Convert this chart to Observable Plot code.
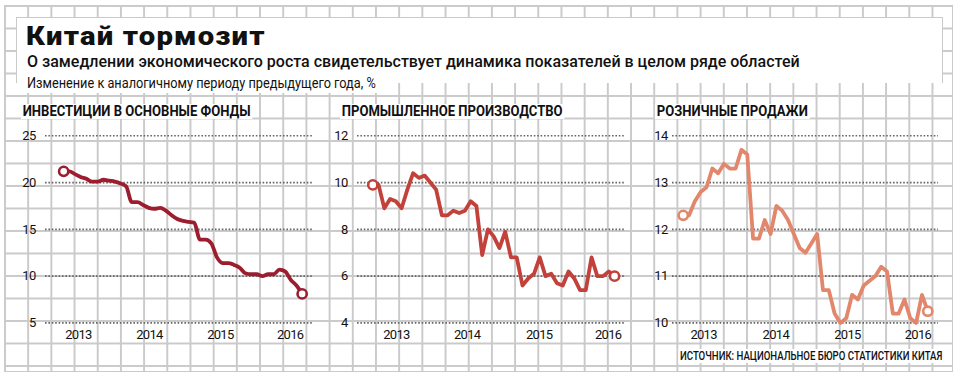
<!DOCTYPE html>
<html>
<head>
<meta charset="utf-8">
<script src="https://cdn.jsdelivr.net/npm/d3@7"></script>
<script src="https://cdn.jsdelivr.net/npm/@observablehq/plot@0.6"></script>
<style>
  html, body { margin: 0; padding: 0; background: #fff; }
  body { width: 960px; height: 374px; position: relative; overflow: hidden; }
  #frame {
    position: absolute; left: 4px; top: 5px; width: 948px; height: 366px;
    background-image:
      linear-gradient(to right, #cacaca 1.5px, transparent 1.5px),
      linear-gradient(to bottom, #cacaca 1.5px, transparent 1.5px);
    background-size: 23.2px 22.5px;
    border-right: 1.5px solid #cacaca; border-bottom: 1.5px solid #cacaca;
  }
  #headbox {
    position: absolute; left: 16px; top: 17px; width: 925px; height: 65px;
    background: #fff; border: 1.5px solid #cacaca; border-bottom: none;
  }
  .txt { position: absolute; white-space: nowrap; color: #111; line-height: 1; }
  #title { left: 26px; top: 22px; font: 900 25px "Roboto", "Liberation Sans", sans-serif; letter-spacing: 1px;
           transform: scaleX(1.17); transform-origin: 0 0; }
  #sub { left: 27px; top: 52px; font: 500 16px "Roboto", "Liberation Sans", sans-serif; }
  #sub2 { left: 26px; top: 74px; font: 400 14px "Roboto", sans-serif; background: #fff; padding: 1px 2px 2px 1px;
          transform: scaleX(0.91); transform-origin: 0 0; }
  .ptitle { position: absolute; top: 104px; font: 700 15px "Roboto", sans-serif; background: #fff; padding: 0 2px;
            white-space: nowrap; color: #111; line-height: 1; transform: scaleX(0.87); transform-origin: 0 0; }
  #src { right: 16px; top: 349px; font: 500 12px "Roboto", sans-serif; background: #fff; padding: 0 2px;
         transform: scaleX(0.8); transform-origin: 100% 0; }
  .panel { position: absolute; top: 120px; }
  .panel svg text { letter-spacing: -0.7px; }
</style>
</head>
<body>
<div id="frame"></div>
<div id="headbox"></div>
<div class="txt" id="title">Китай тормозит</div>
<div class="txt" id="sub">О замедлении экономического роста свидетельствует динамика показателей в целом ряде областей</div>
<div class="txt" id="sub2">Изменение к аналогичному периоду предыдущего года, %</div>
<div class="ptitle" style="left:21px">ИНВЕСТИЦИИ В ОСНОВНЫЕ ФОНДЫ</div>
<div class="ptitle" style="left:340px">ПРОМЫШЛЕННОЕ ПРОИЗВОДСТВО</div>
<div class="ptitle" style="left:655px">РОЗНИЧНЫЕ ПРОДАЖИ</div>
<div class="txt" id="src">ИСТОЧНИК: НАЦИОНАЛЬНОЕ БЮРО СТАТИСТИКИ КИТАЯ</div>
<div class="panel" id="p1" style="left:0px"></div>
<div class="panel" id="p2" style="left:320px"></div>
<div class="panel" id="p3" style="left:640px"></div>
<script>
// Monthly values, January 2013 – July 2016 (Jan and Feb share the combined value)
const yearLabels = ["2013", "2014", "2015", "2016"];

const investment = [
  21.2, 21.2, 20.9, 20.6, 20.4, 20.1, 20.1, 20.3, 20.2, 20.1, 19.9, 19.6,
  17.9, 17.9, 17.6, 17.3, 17.2, 17.3, 17.0, 16.5, 16.1, 15.9, 15.8, 15.7,
  13.9, 13.9, 13.5, 12.0, 11.4, 11.4, 11.2, 10.9, 10.3, 10.2, 10.2, 10.0,
  10.2, 10.2, 10.7, 10.5, 9.6, 9.0, 8.1
];
const industry = [
  9.9, 9.9, 8.9, 9.3, 9.2, 8.9, 9.7, 10.4, 10.2, 10.3, 10.0, 9.7,
  8.6, 8.6, 8.8, 8.7, 8.8, 9.2, 9.0, 6.9, 8.0, 7.7, 7.2, 7.9,
  6.8, 6.8, 5.6, 5.9, 6.1, 6.8, 6.0, 6.1, 5.7, 5.6, 6.2, 5.9,
  5.4, 5.4, 6.8, 6.0, 6.0, 6.2, 6.0
];
const retail = [
  12.3, 12.3, 12.6, 12.8, 12.9, 13.3, 13.2, 13.4, 13.3, 13.3, 13.7, 13.6,
  11.8, 11.8, 12.2, 11.9, 12.5, 12.4, 12.2, 11.9, 11.6, 11.5, 11.7, 11.9,
  10.7, 10.7, 10.2, 10.0, 10.1, 10.6, 10.5, 10.8, 10.9, 11.0, 11.2, 11.1,
  10.2, 10.2, 10.5, 10.1, 10.0, 10.6, 10.25
];
const yTicksInv = [5, 10, 15, 20, 25];
const yTicksInd = [4, 6, 8, 10, 12];
const yTicksRet = [10, 11, 12, 13, 14];

const panels = [
  {id: "p1", values: investment, yTicks: yTicksInv, color: "#9c1d2d", curve: "monotone-x",
   ml: 45, mr: 7, xdom: [-3.2, 44], xAt: [2.6, 15.1, 27.6, 39.9], pad: 10},
  {id: "p2", values: industry, yTicks: yTicksInd, color: "#c2413a", curve: "linear",
   ml: 37, mr: 15, xdom: [-2.66, 43.9], xAt: [4.1, 16.4, 28.9, 40.9], pad: 10},
  {id: "p3", values: retail, yTicks: yTicksRet, color: "#e2876c", curve: "linear",
   ml: 32, mr: 22, xdom: [-1.84, 43.84], xAt: [3.5, 15.9, 28.2, 40.3], pad: 5}
];

const font = '"Roboto", sans-serif';

for (const p of panels) {
  const n = p.values.length;
  const chart = Plot.plot({
    width: 320, height: 225,
    marginLeft: p.ml, marginRight: p.mr, marginTop: 15.3, marginBottom: 22.6,
    x: {domain: p.xdom},
    y: {domain: [p.yTicks[0], p.yTicks[p.yTicks.length - 1]]},
    style: {background: "transparent", overflow: "visible", fontFamily: font, color: "#111"},
    marks: [
      Plot.ruleY(p.yTicks, {stroke: "#666", strokeWidth: 1.6, strokeDasharray: "1.6,1.8"}),
      Plot.axisY({ticks: p.yTicks, tickFormat: d3.format("d"), tickSize: 0, tickPadding: p.pad,
                  fontSize: 13, fill: "#111", label: null}),
      Plot.axisX({ticks: p.xAt, tickFormat: (d, i) => yearLabels[i], tickSize: 0, tickPadding: 7,
                  fontSize: 13, fill: "#111", label: null}),
      Plot.line(p.values, {x: (d, i) => i, y: d => d, stroke: p.color, strokeWidth: 3.8,
                           curve: p.curve, strokeLinejoin: "round", strokeLinecap: "round"}),
      Plot.dot(p.values, {x: (d, i) => i, y: d => d, filter: (d, i) => i === 0 || i === n - 1,
                          r: 4.6, fill: "white", stroke: p.color, strokeWidth: 2.6})
    ]
  });
  document.getElementById(p.id).appendChild(chart);
}
</script>
</body>
</html>
